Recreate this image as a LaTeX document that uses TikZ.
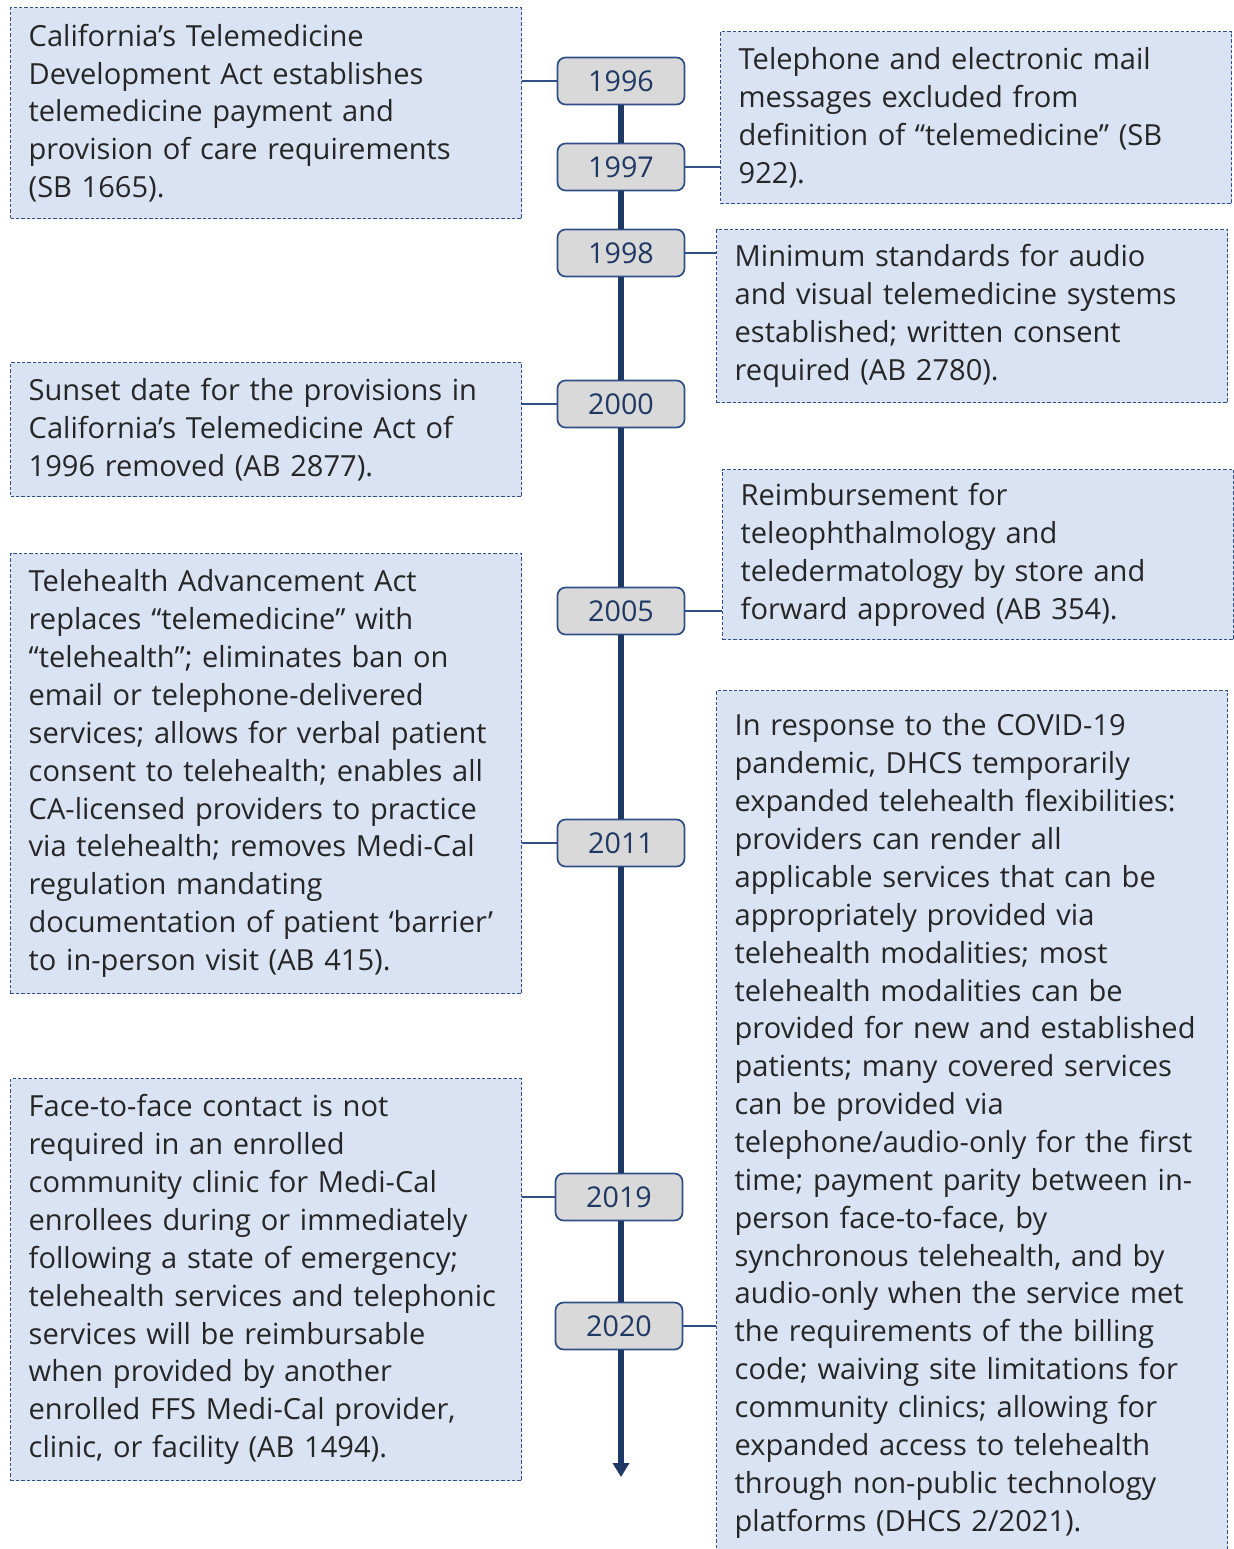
\documentclass[tikz,border=0pt]{standalone}
\usepackage{fontspec}
\setmainfont{Open Sans}
\usetikzlibrary{arrows.meta}
\definecolor{EventFill}{HTML}{DAE3F3}
\definecolor{EventLine}{HTML}{2F4F86}
\definecolor{YearFill}{HTML}{D9D9D9}
\definecolor{SpineBlue}{HTML}{1F3864}
\definecolor{BodyGray}{HTML}{262626}

\begin{document}
\begin{tikzpicture}[x=0.75pt, y=-0.75pt,
    evt/.style={draw=EventLine, fill=EventFill, line width=1pt,
      dash pattern=on 2.5pt off 1.5pt, anchor=north west,
      text width=356.25pt, minimum height=#1, inner xsep=13.5pt,
      align=left, text=BodyGray, font=\fontsize{21.8}{28.4}\selectfont},
    yr/.style={draw=EventLine, fill=YearFill, rounded corners=6pt,
      line width=1.3pt, minimum width=95.25pt, minimum height=35.25pt,
      text=SpineBlue, font=\fontsize{21.5}{24}\selectfont},
    link/.style={draw=EventLine, line width=1pt},
    spine/.style={draw=SpineBlue, line width=4.5pt}]
  \useasboundingbox (0,0) rectangle (1233,1549);

  % event boxes, left side
  \node[evt=158.25pt] (e1996) at (10,7) {California’s Telemedicine\\
    Development Act establishes\\ telemedicine payment and\\
    provision of care requirements\\ (SB 1665).};
  \node[evt=100.5pt] (e2000) at (10,362) {Sunset date for the provisions in\\
    California’s Telemedicine Act of\\ 1996 removed (AB 2877).};
  \node[evt=330pt] (e2011) at (10,553) {Telehealth Advancement Act\\
    replaces “telemedicine” with\\ “telehealth”; eliminates ban on\\
    email or telephone-delivered\\ services; allows for verbal patient\\
    consent to telehealth; enables all\\ CA-licensed providers to practice\\
    via telehealth; removes Medi-Cal\\ regulation mandating\\
    documentation of patient ‘barrier’\\ to in-person visit (AB 415).};
  \node[evt=301.5pt] (e2019) at (10,1078) {Face-to-face contact is not\\
    required in an enrolled\\ community clinic for Medi-Cal\\
    enrollees during or immediately\\ following a state of emergency;\\
    telehealth services and telephonic\\ services will be reimbursable\\
    when provided by another\\ enrolled FFS Medi-Cal provider,\\
    clinic, or facility (AB 1494).};

  % event boxes, right side
  \node[evt=129pt] (e1997) at (720,31) {Telephone and electronic mail\\
    messages excluded from\\ definition of “telemedicine” (SB\\ 922).};
  \node[evt=129.75pt] (e1998) at (716,229) {Minimum standards for audio\\
    and visual telemedicine systems\\ established; written consent\\
    required (AB 2780).};
  \node[evt=127.5pt] (e2005) at (722,469) {Reimbursement for\\
    teleophthalmology and\\ teledermatology by store and\\
    forward approved (AB 354).};
  \node[evt=653pt] (e2020) at (716,690) {In response to the COVID-19\\
    pandemic, DHCS temporarily\\ expanded telehealth flexibilities:\\
    providers can render all\\ applicable services that can be\\
    appropriately provided via\\ telehealth modalities; most\\
    telehealth modalities can be\\ provided for new and established\\
    patients; many covered services\\ can be provided via\\
    telephone/audio-only for the first\\ time; payment parity between in-\\
    person face-to-face, by\\ synchronous telehealth, and by\\
    audio-only when the service met\\ the requirements of the billing\\
    code; waiving site limitations for\\ community clinics; allowing for\\
    expanded access to telehealth\\ through non-public technology\\
    platforms (DHCS 2/2021).};

  % years on the time line
  \node[yr] (y1996) at (621,81) {1996};
  \node[yr] (y1997) at (621,167) {1997};
  \node[yr] (y1998) at (621,253) {1998};
  \node[yr] (y2000) at (621,404) {2000};
  \node[yr] (y2005) at (621,611) {2005};
  \node[yr] (y2011) at (621,843) {2011};
  \node[yr] (y2019) at (619,1197) {2019};
  \node[yr] (y2020) at (619,1326) {2020};
  \coordinate (tip) at (621,1477);

  \foreach \a/\b in {1996/1997,1997/1998,1998/2000,2000/2005,2005/2011}
    \draw[spine] (y\a.south) -- (y\b.north);
  \draw[spine] (y2011.south) -- (y2011.south |- y2019.north);
  \draw[spine] (y2019.south -| y2011.south) -- (y2020.north -| y2011.south);
  \draw[spine,-{Triangle[width=12pt,length=10.5pt]}] (y2020.south -| y2011.south) -- (tip);

  \foreach \y in {1996,2000,2011,2019}
    \draw[link] (y\y.west) -- (y\y.west -| e\y.east);
  \foreach \y in {1997,1998,2005,2020}
    \draw[link] (y\y.east) -- (y\y.east -| e\y.west);
\end{tikzpicture}
\end{document}
